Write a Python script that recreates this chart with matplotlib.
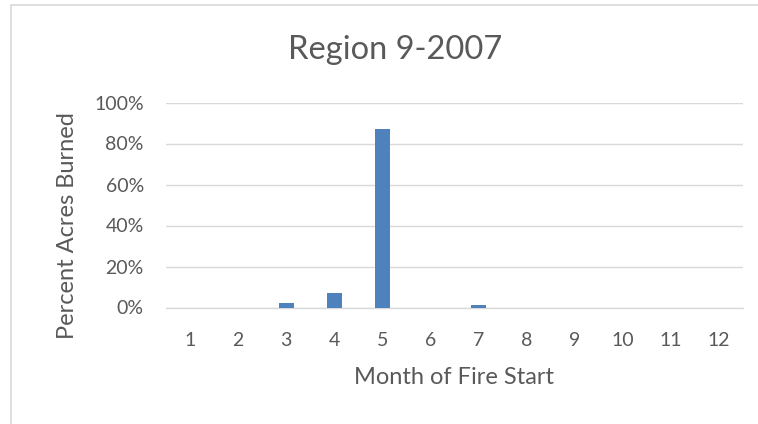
import matplotlib.pyplot as plt
from matplotlib.patches import Rectangle
from matplotlib.ticker import PercentFormatter

months = ["1", "2", "3", "4", "5", "6", "7", "8", "9", "10", "11", "12"]
pct_burned = [0.0, 0.0, 0.022, 0.07, 0.872, 0.0, 0.012, 0.0, 0.0, 0.0, 0.0, 0.0]
yticks = [0.0, 0.2, 0.4, 0.6, 0.8, 1.0]

plt.rcParams['font.family'] = ['Lato', 'DejaVu Sans']
text_color = '#595959'

fig = plt.figure(figsize=(7.58, 4.24), dpi=100)

# chart area outline
fig.patches.append(Rectangle((11 / 758, -0.01), 1.0, 1 - 5 / 424 + 0.01,
                             transform=fig.transFigure, fill=False,
                             edgecolor='#D9D9D9', linewidth=1.2))

ax = fig.add_axes([166 / 758, 116.5 / 424, 577 / 758, 205 / 424])
x = range(len(months))
ax.bar(x, pct_burned, width=0.31, color='#4F81BD', zorder=3)

ax.set_xlim(-0.5, len(months) - 0.5)
ax.set_ylim(0, 1.0)
ax.set_yticks(yticks)
ax.yaxis.set_major_formatter(PercentFormatter(1.0, decimals=0))
ax.set_xticks(list(x))
ax.set_xticklabels(months)
ax.grid(axis='y', color='#D9D9D9', linewidth=1, zorder=0)
for s in ['top', 'right', 'left']:
    ax.spines[s].set_visible(False)
ax.spines['bottom'].set_color('#D9D9D9')
ax.spines['bottom'].set_linewidth(1)
ax.tick_params(length=0, labelsize=14, colors=text_color)
ax.tick_params(axis='x', pad=18)
ax.tick_params(axis='y', pad=16)

ax.set_xlabel('Month of Fire Start', fontsize=17, color=text_color)
ax.xaxis.set_label_coords(454 / 758, 1 - 378 / 424, transform=fig.transFigure)
ax.xaxis.label.set_verticalalignment('center')
ax.set_ylabel('Percent Acres Burned', fontsize=17, color=text_color)
ax.yaxis.set_label_coords(68 / 758, 1 - 226 / 424, transform=fig.transFigure)
ax.yaxis.label.set_verticalalignment('center')
fig.text(395 / 758, 1 - 50 / 424, 'Region 9-2007', fontsize=23.5, color=text_color,
         ha='center', va='center')

fig.savefig('out.png', dpi=100)
